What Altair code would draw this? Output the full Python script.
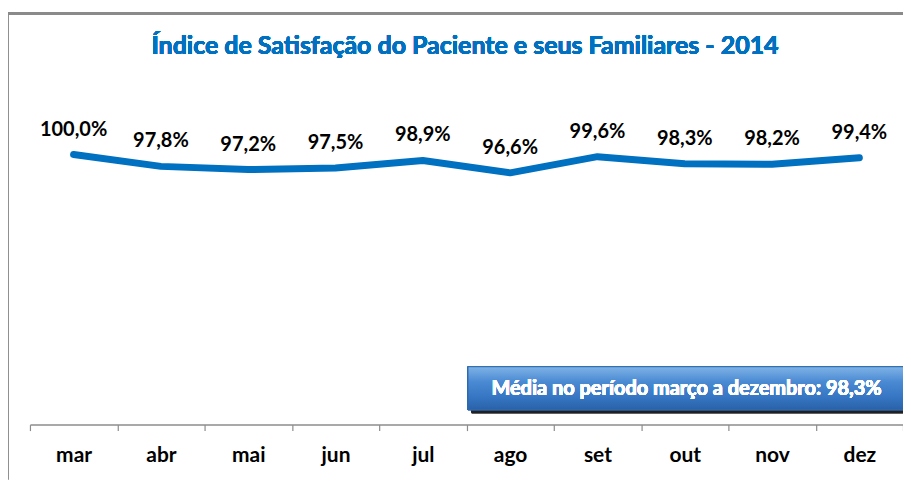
import altair as alt
import pandas as pd

meses = ["mar", "abr", "mai", "jun", "jul", "ago", "set", "out", "nov", "dez"]
indice = [100.0, 97.8, 97.2, 97.5, 98.9, 96.6, 99.6, 98.3, 98.2, 99.4]
titulo = "Índice de Satisfação do Paciente e seus Familiares - 2014"
media_texto = "Média no período março a dezembro: 98,3%"

df = pd.DataFrame({"mes": meses, "valor": indice})

W, H = 875, 379
FONT = "Lato"
BLUE = "#0070C0"

x = alt.X("mes:N", sort=meses, title=None,
          scale=alt.Scale(paddingInner=0, paddingOuter=0),
          axis=alt.Axis(labelAngle=0, labelFont=FONT, labelFontSize=21,
                        labelFontWeight="bold", labelColor="#000000",
                        labelPadding=14, domainColor="#8c8c8c", domainWidth=1.5,
                        tickColor="#8c8c8c", tickWidth=1.2, tickSize=6,
                        tickBand="extent", grid=False))
y = alt.Y("valor:Q", scale=alt.Scale(domain=[50, 120], nice=False, zero=False), axis=None)

base = alt.Chart(df)

line = base.mark_line(color=BLUE, strokeWidth=7, strokeCap="round", strokeJoin="round").encode(x=x, y=y)

labels = base.transform_calculate(
    lbl="replace(format(datum.valor, '.1f'), '.', ',') + '%'"
).mark_text(font=FONT, fontSize=20, fontWeight="bold", color="#000000",
            baseline="middle", dy=-25).encode(x=x, y=y, text="lbl:N")

# chart border (only its left and top edges fall inside the picture)
frame_top = base.mark_rule(color="#8a8a8a", strokeWidth=2.5).encode(
    x=alt.value(-23), x2=alt.value(W), y=alt.value(-33))
frame_left = base.mark_rule(color="#8a8a8a", strokeWidth=2.5).encode(
    x=alt.value(-23), y=alt.value(-33), y2=alt.value(H + 55))

title = base.mark_text(text=titulo, font=FONT, fontSize=25, fontWeight="bold",
                       color=BLUE, baseline="middle", align="center").encode(
    x=alt.value(436), y=alt.value(0))

# average box
shadow = base.mark_rect(color="#000000", opacity=0.18, cornerRadius=2).encode(
    x=alt.value(442), x2=alt.value(880), y=alt.value(324), y2=alt.value(368))
grad = alt.LinearGradient(gradient="linear", x1=0, y1=0, x2=0, y2=1, stops=[
    alt.GradientStop(color="#7fb3e6", offset=0),
    alt.GradientStop(color="#4a8ad3", offset=0.35),
    alt.GradientStop(color="#3473c0", offset=0.75),
    alt.GradientStop(color="#2a62a8", offset=1)])
box = base.mark_rect(color=grad, stroke="#2f69ad", strokeWidth=1).encode(
    x=alt.value(439), x2=alt.value(877), y=alt.value(321), y2=alt.value(364))
box_text = base.mark_text(text=media_texto, font=FONT, fontSize=20, fontWeight="bold",
                          color="#ffffff", baseline="middle", align="center").encode(
    x=alt.value(658), y=alt.value(343))

chart = alt.layer(frame_top, frame_left, title, shadow, box, box_text, line, labels).properties(
    width=W, height=H,
    autosize=alt.AutoSizeParams(type="none"),
    padding={"left": 22, "top": 38, "right": 0, "bottom": 55},
).configure(background="#ffffff").configure_view(strokeWidth=0, stroke="transparent")

chart.save("out.html", embed_options={"renderer": "svg", "actions": False})
